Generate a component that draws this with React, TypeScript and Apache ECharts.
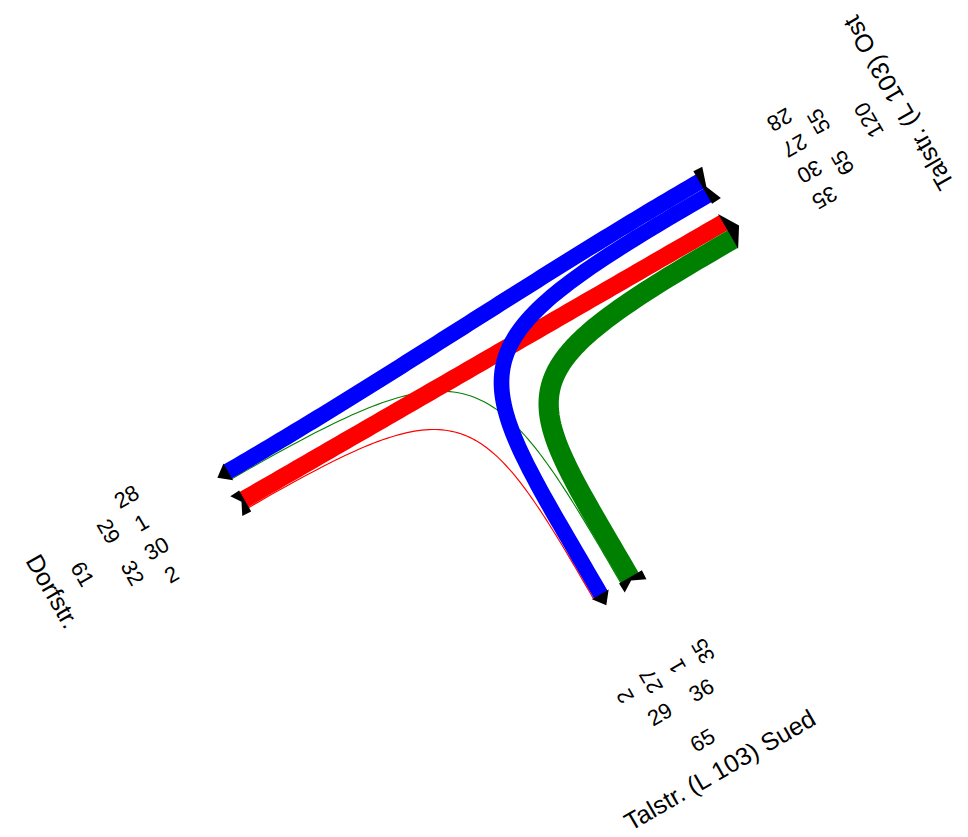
import React, { useEffect, useRef } from "react";
import * as echarts from "echarts";

// ---------------- data ----------------
const armNames = ["Talstr. (L 103) Ost", "Dorfstr.", "Talstr. (L 103) Sued"];
const armColors = ["#0000ff", "#ff0000", "#008000"];
// flows: origin arm -> destination arm, vehicles
const flowFrom = [0, 0, 1, 1, 2, 2];
const flowTo = [1, 2, 0, 2, 0, 1];
const flowValues = [28, 27, 30, 2, 35, 1];

// ---------------- layout ----------------
const W = 968;
const H = 837;
const CENTER = [475.6, 347.1];
const ARM_ANGLE = [-30, 150, 60]; // screen degrees (y down)
const ARM_LEN = 277;
const GAP = 7.5;
const PX_PER_VEH = 0.58;
const HANDLE_F = [1.07, 0.97, 0.91];
const FONT = "'Liberation Sans', Arial, Helvetica, sans-serif";
const NAME_SIZE = 25;
const NUM_SIZE = 22;

const dir = (a: number) => {
  const r = (ARM_ANGLE[a] * Math.PI) / 180;
  return [Math.cos(r), Math.sin(r)];
};
const cw = (a: number, b: number) => (((ARM_ANGLE[b] - ARM_ANGLE[a]) % 360) + 360) % 360;
const armPt = (a: number, t: number, s: number) => {
  const [dx, dy] = dir(a);
  return [CENTER[0] + dx * t - dy * s, CENTER[1] + dy * t + dx * s];
};

const nFlows = flowValues.length;
const widths = flowValues.map((v) => v * PX_PER_VEH);
const sStart: number[] = new Array(nFlows);
const sEnd: number[] = new Array(nFlows);
const entryOrder: number[][] = [];
const exitOrder: number[][] = [];
const entryW: number[] = [];
const exitW: number[] = [];
for (let a = 0; a < armNames.length; a++) {
  const idx = flowValues.map((_, i) => i);
  const ent = idx.filter((i) => flowFrom[i] === a).sort((i, j) => cw(a, flowTo[i]) - cw(a, flowTo[j]));
  let cum = 0;
  ent.forEach((i) => {
    sStart[i] = -(GAP + cum + widths[i] / 2);
    cum += widths[i];
  });
  entryW[a] = cum;
  const ex = idx.filter((i) => flowTo[i] === a).sort((i, j) => cw(a, flowFrom[j]) - cw(a, flowFrom[i]));
  cum = 0;
  ex.forEach((i) => {
    sEnd[i] = GAP + cum + widths[i] / 2;
    cum += widths[i];
  });
  exitW[a] = cum;
  entryOrder[a] = ent;
  exitOrder[a] = ex;
}

const flowPaths: number[][][] = flowValues.map((_, i) => {
  const A = flowFrom[i];
  const B = flowTo[i];
  const p0 = armPt(A, ARM_LEN, sStart[i]);
  const p3 = armPt(B, ARM_LEN, sEnd[i]);
  const dA = dir(A);
  const dB = dir(B);
  let h1: number, h2: number;
  if (cw(A, B) === 180) {
    const dist = Math.hypot(p0[0] - p3[0], p0[1] - p3[1]);
    h1 = dist / 3;
    h2 = dist / 3;
  } else {
    const Dx = p0[0] - p3[0];
    const Dy = p0[1] - p3[1];
    const det = -dA[0] * dB[1] + dB[0] * dA[1];
    const x = (-Dx * dB[1] + dB[0] * Dy) / det;
    const y = (dA[0] * Dy - dA[1] * Dx) / det;
    h1 = x * HANDLE_F[A];
    h2 = y * HANDLE_F[B];
  }
  const p1 = [p0[0] - dA[0] * h1, p0[1] - dA[1] * h1];
  const p2 = [p3[0] - dB[0] * h2, p3[1] - dB[1] * h2];
  const pts: number[][] = [];
  const N = 90;
  for (let k = 0; k <= N; k++) {
    const t = k / N;
    const a = (1 - t) ** 3, b = 3 * (1 - t) ** 2 * t, c = 3 * (1 - t) * t * t, d = t ** 3;
    pts.push([
      a * p0[0] + b * p1[0] + c * p2[0] + d * p3[0],
      a * p0[1] + b * p1[1] + c * p2[1] + d * p3[1],
    ]);
  }
  return pts;
});

// drawing order: thin flows first, then red, green, blue
const ORIGIN_LAYER = [2, 0, 1];
const drawOrder = flowValues
  .map((_, i) => i)
  .sort((i, j) => {
    const li = (flowValues[i] < 5 ? 0 : 10) + ORIGIN_LAYER[flowFrom[i]];
    const lj = (flowValues[j] < 5 ? 0 : 10) + ORIGIN_LAYER[flowFrom[j]];
    return li - lj;
  });

// labels (rotExtra: 0 = across the arm, 90 = along the arm)
type Lbl = { a: number; t: number; s: number; text: string; size: number; rotExtra: number };
const labels: Lbl[] = [];
for (let a = 0; a < armNames.length; a++) {
  const inSum = entryOrder[a].reduce((s, i) => s + flowValues[i], 0);
  const outSum = exitOrder[a].reduce((s, i) => s + flowValues[i], 0);
  labels.push({ a, t: 488, s: 0, text: armNames[a], size: NAME_SIZE, rotExtra: 0 });
  labels.push({ a, t: 454, s: 0, text: String(inSum + outSum), size: NUM_SIZE, rotExtra: 0 });
  labels.push({ a, t: 410, s: 24, text: String(outSum), size: NUM_SIZE, rotExtra: 0 });
  labels.push({ a, t: 410, s: -24, text: String(inSum), size: NUM_SIZE, rotExtra: 0 });
  exitOrder[a].forEach((i, j) =>
    labels.push({ a, t: 377, s: 15 + 30 * j, text: String(flowValues[i]), size: NUM_SIZE, rotExtra: 90 })
  );
  entryOrder[a].forEach((i, j) =>
    labels.push({ a, t: 377, s: -(15 + 30 * j), text: String(flowValues[i]), size: NUM_SIZE, rotExtra: 90 })
  );
}

const option = {
  animation: false,
  backgroundColor: "#ffffff",
  grid: { left: 0, top: 0, right: 0, bottom: 0 },
  xAxis: { type: "value", min: 0, max: W, show: false },
  yAxis: { type: "value", min: 0, max: H, inverse: true, show: false },
  series: [
    {
      type: "custom",
      clip: false,
      silent: true,
      data: drawOrder.map((i) => [i, flowValues[i]]),
      renderItem: (params: any, api: any) => {
        const i = api.value(0);
        const pts = flowPaths[i].map((p) => api.coord(p));
        return {
          type: "polyline",
          shape: { points: pts },
          style: {
            stroke: armColors[flowFrom[i]],
            fill: null,
            lineWidth: Math.max(widths[i], 1.1),
            lineCap: "butt",
            lineJoin: "round",
          },
        };
      },
    },
    {
      type: "custom",
      clip: false,
      silent: true,
      data: armNames.map((_, a) => [a, 0]),
      renderItem: (params: any, api: any) => {
        const a = api.value(0);
        const L = ARM_LEN;
        const wo = exitW[a];
        const wi = entryW[a];
        const arrow = [
          [L - 0.5, GAP - 1.5],
          [L + 12, GAP + wo / 2],
          [L - 0.5, GAP + wo + 1],
        ].map(([t, s]) => api.coord(armPt(a, t, s)));
        const bow = [
          [L - 0.5, -(GAP - 1.5)],
          [L + 10, -(GAP - 1)],
          [L + 3, -(GAP + wi / 2)],
          [L + 9.5, -(GAP + wi + 3.5)],
          [L - 0.5, -(GAP + wi + 4)],
        ].map(([t, s]) => api.coord(armPt(a, t, s)));
        return {
          type: "group",
          children: [
            { type: "polygon", shape: { points: arrow }, style: { fill: "#000000" } },
            { type: "polygon", shape: { points: bow }, style: { fill: "#000000" } },
          ],
        };
      },
    },
    {
      type: "custom",
      clip: false,
      silent: true,
      data: labels.map((_, i) => [i, 0]),
      renderItem: (params: any, api: any) => {
        const l = labels[api.value(0)];
        const p = api.coord(armPt(l.a, l.t, l.s));
        const rot = ((-ARM_ANGLE[l.a] + 90 + l.rotExtra) * Math.PI) / 180;
        return {
          type: "text",
          x: p[0],
          y: p[1],
          rotation: rot,
          style: {
            text: l.text,
            x: 0,
            y: 0,
            fill: "#000000",
            fontSize: l.size,
            fontFamily: FONT,
            align: "center",
            verticalAlign: "middle",
          },
        };
      },
    },
  ],
};

export default function App() {
  const ref = useRef<HTMLDivElement>(null);
  useEffect(() => {
    const chart = echarts.init(ref.current as HTMLDivElement, null, { renderer: "svg" });
    chart.setOption(option as any);
    return () => chart.dispose();
  }, []);
  return (
    <div
      ref={ref}
      style={{ position: "fixed", left: 0, top: 0, width: W, height: H, background: "#ffffff" }}
    />
  );
}
